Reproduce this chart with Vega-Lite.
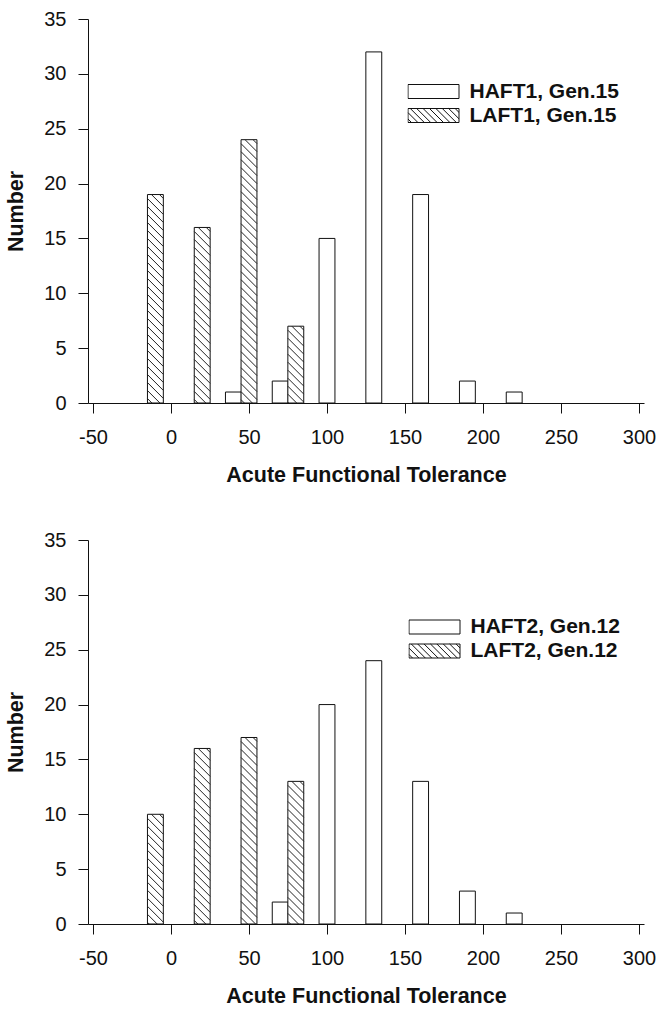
{
  "$schema": "https://vega.github.io/schema/vega-lite/v6.json",
  "background": "white",
  "padding": {"left": 5, "top": 9, "right": 2, "bottom": 4},
  "datasets": {
    "gen15": [
      {"AFT": -10, "Number": 19, "Line": "LAFT1, Gen.15"},
      {"AFT": 20, "Number": 16, "Line": "LAFT1, Gen.15"},
      {"AFT": 50, "Number": 24, "Line": "LAFT1, Gen.15"},
      {"AFT": 80, "Number": 7, "Line": "LAFT1, Gen.15"},
      {"AFT": 40, "Number": 1, "Line": "HAFT1, Gen.15"},
      {"AFT": 70, "Number": 2, "Line": "HAFT1, Gen.15"},
      {"AFT": 100, "Number": 15, "Line": "HAFT1, Gen.15"},
      {"AFT": 130, "Number": 32, "Line": "HAFT1, Gen.15"},
      {"AFT": 160, "Number": 19, "Line": "HAFT1, Gen.15"},
      {"AFT": 190, "Number": 2, "Line": "HAFT1, Gen.15"},
      {"AFT": 220, "Number": 1, "Line": "HAFT1, Gen.15"}
    ],
    "gen12": [
      {"AFT": -10, "Number": 10, "Line": "LAFT2, Gen.12"},
      {"AFT": 20, "Number": 16, "Line": "LAFT2, Gen.12"},
      {"AFT": 50, "Number": 17, "Line": "LAFT2, Gen.12"},
      {"AFT": 80, "Number": 13, "Line": "LAFT2, Gen.12"},
      {"AFT": 70, "Number": 2, "Line": "HAFT2, Gen.12"},
      {"AFT": 100, "Number": 20, "Line": "HAFT2, Gen.12"},
      {"AFT": 130, "Number": 24, "Line": "HAFT2, Gen.12"},
      {"AFT": 160, "Number": 13, "Line": "HAFT2, Gen.12"},
      {"AFT": 190, "Number": 3, "Line": "HAFT2, Gen.12"},
      {"AFT": 220, "Number": 1, "Line": "HAFT2, Gen.12"}
    ]
  },
  "config": {
    "view": {"stroke": null},
    "font": "Liberation Sans",
    "axis": {
      "grid": false,
      "domainColor": "#111", "domainWidth": 1,
      "tickColor": "#111", "tickWidth": 1, "tickSize": 10,
      "labelFont": "Liberation Sans", "labelFontSize": 20, "labelColor": "#111",
      "titleFont": "Liberation Sans", "titleFontSize": 21.5, "titleFontWeight": "bold", "titleColor": "#111",
      "labelFlush": false, "labelOverlap": false
    },
    "axisX": {"labelPadding": 14, "titlePadding": 17, "labelExpr": "'' + datum.value"},
    "axisY": {"labelPadding": 12, "titlePadding": 16},
    "legend": {
      "title": null,
      "orient": "none",
      "symbolSize": 2601,
      "symbolStrokeColor": "#111",
      "symbolStrokeWidth": 1,
      "symbolFillColor": "white",
      "symbolOpacity": 1,
      "clipHeight": 22,
      "rowPadding": 2,
      "labelOffset": 10,
      "labelFont": "Liberation Sans",
      "labelFontSize": 21,
      "labelFontWeight": "bold",
      "labelColor": "#111",
      "labelLimit": 300
    }
  },
  "spacing": 44,
  "vconcat": [
    {
      "width": 556,
      "height": 384,
      "data": {"name": "gen15"},
      "layer": [
        {
          "transform": [{"filter": {"field": "Line", "equal": "HAFT1, Gen.15"}}],
          "mark": {"type": "bar", "orient": "vertical", "width": 15.886, "stroke": "#111", "strokeWidth": 1},
          "encoding": {
            "x": {"field": "AFT", "type": "quantitative", "scale": {"domain": [-50, 300], "nice": false, "zero": false}, "axis": {"title": "Acute Functional Tolerance", "values": [-50, 0, 50, 100, 150, 200, 250, 300]}},
            "y": {"field": "Number", "type": "quantitative", "scale": {"domain": [0, 35], "nice": false}, "axis": {"title": "Number", "values": [0, 5, 10, 15, 20, 25, 30, 35]}},
            "fill": {"field": "Line", "type": "nominal",
              "scale": {"domain": ["HAFT1, Gen.15"], "range": ["white"]},
              "legend": {"legendX": 319.5, "legendY": 61.5, "symbolType": "M-1,-0.2745L1,-0.2745L1,0.2745L-1,0.2745Z"}}
          }
        },
        {
          "transform": [{"filter": {"field": "Line", "equal": "LAFT1, Gen.15"}}],
          "mark": {"type": "bar", "orient": "vertical", "width": 15.886, "fill": "white", "strokeWidth": 1},
          "encoding": {
            "x": {"field": "AFT", "type": "quantitative"},
            "y": {"field": "Number", "type": "quantitative"},
            "stroke": {"field": "Line", "type": "nominal",
              "scale": {"domain": ["LAFT1, Gen.15"], "range": ["#111"]},
              "legend": {"legendX": 319.5, "legendY": 85.5, "symbolType": "M-1,-0.2745L1,-0.2745L1,0.2745L-1,0.2745ZM-1,0.1373L-0.8627,0.2745M-1,-0.1137L-0.6118,0.2745M-0.9098,-0.2745L-0.3608,0.2745M-0.6588,-0.2745L-0.1098,0.2745M-0.4078,-0.2745L0.1412,0.2745M-0.1569,-0.2745L0.3922,0.2745M0.0941,-0.2745L0.6431,0.2745M0.3451,-0.2745L0.8941,0.2745M0.5961,-0.2745L1,0.1294M0.8471,-0.2745L1,-0.1216"}}
          }
        },
        {
          "transform": [{"filter": {"field": "Line", "equal": "LAFT1, Gen.15"}}],
          "mark": {"type": "point", "clip": true, "filled": false, "size": 4, "opacity": 1, "stroke": "#222", "strokeWidth": 1,
            "shape": "M4.06,0L7.94,3.89M-3.94,0L7.94,11.89M-7.94,4l15.89,15.89M-7.94,12l15.89,15.89M-7.94,20l15.89,15.89M-7.94,28l15.89,15.89M-7.94,36l15.89,15.89M-7.94,44l15.89,15.89M-7.94,52l15.89,15.89M-7.94,60l15.89,15.89M-7.94,68l15.89,15.89M-7.94,76l15.89,15.89M-7.94,84l15.89,15.89M-7.94,92l15.89,15.89M-7.94,100l15.89,15.89M-7.94,108l15.89,15.89M-7.94,116l15.89,15.89M-7.94,124l15.89,15.89M-7.94,132l15.89,15.89M-7.94,140l15.89,15.89M-7.94,148l15.89,15.89M-7.94,156l15.89,15.89M-7.94,164l15.89,15.89M-7.94,172l15.89,15.89M-7.94,180l15.89,15.89M-7.94,188l15.89,15.89M-7.94,196l15.89,15.89M-7.94,204l15.89,15.89M-7.94,212l15.89,15.89M-7.94,220l15.89,15.89M-7.94,228l15.89,15.89M-7.94,236l15.89,15.89M-7.94,244l15.89,15.89M-7.94,252l15.89,15.89M-7.94,260l15.89,15.89M-7.94,268l15.89,15.89"},
          "encoding": {
            "x": {"field": "AFT", "type": "quantitative"},
            "y": {"field": "Number", "type": "quantitative"}
          }
        }
      ]
    },
    {
      "width": 556,
      "height": 384,
      "data": {"name": "gen12"},
      "layer": [
        {
          "transform": [{"filter": {"field": "Line", "equal": "HAFT2, Gen.12"}}],
          "mark": {"type": "bar", "orient": "vertical", "width": 15.886, "stroke": "#111", "strokeWidth": 1},
          "encoding": {
            "x": {"field": "AFT", "type": "quantitative", "scale": {"domain": [-50, 300], "nice": false, "zero": false}, "axis": {"title": "Acute Functional Tolerance", "values": [-50, 0, 50, 100, 150, 200, 250, 300]}},
            "y": {"field": "Number", "type": "quantitative", "scale": {"domain": [0, 35], "nice": false}, "axis": {"title": "Number", "values": [0, 5, 10, 15, 20, 25, 30, 35]}},
            "fill": {"field": "Line", "type": "nominal",
              "scale": {"domain": ["HAFT2, Gen.12"], "range": ["white"]},
              "legend": {"legendX": 320.5, "legendY": 76, "symbolType": "M-1,-0.2745L1,-0.2745L1,0.2745L-1,0.2745Z"}}
          }
        },
        {
          "transform": [{"filter": {"field": "Line", "equal": "LAFT2, Gen.12"}}],
          "mark": {"type": "bar", "orient": "vertical", "width": 15.886, "fill": "white", "strokeWidth": 1},
          "encoding": {
            "x": {"field": "AFT", "type": "quantitative"},
            "y": {"field": "Number", "type": "quantitative"},
            "stroke": {"field": "Line", "type": "nominal",
              "scale": {"domain": ["LAFT2, Gen.12"], "range": ["#111"]},
              "legend": {"legendX": 320.5, "legendY": 100, "symbolType": "M-1,-0.2745L1,-0.2745L1,0.2745L-1,0.2745ZM-1,0.1373L-0.8627,0.2745M-1,-0.1137L-0.6118,0.2745M-0.9098,-0.2745L-0.3608,0.2745M-0.6588,-0.2745L-0.1098,0.2745M-0.4078,-0.2745L0.1412,0.2745M-0.1569,-0.2745L0.3922,0.2745M0.0941,-0.2745L0.6431,0.2745M0.3451,-0.2745L0.8941,0.2745M0.5961,-0.2745L1,0.1294M0.8471,-0.2745L1,-0.1216"}}
          }
        },
        {
          "transform": [{"filter": {"field": "Line", "equal": "LAFT2, Gen.12"}}],
          "mark": {"type": "point", "clip": true, "filled": false, "size": 4, "opacity": 1, "stroke": "#222", "strokeWidth": 1,
            "shape": "M4.06,0L7.94,3.89M-3.94,0L7.94,11.89M-7.94,4l15.89,15.89M-7.94,12l15.89,15.89M-7.94,20l15.89,15.89M-7.94,28l15.89,15.89M-7.94,36l15.89,15.89M-7.94,44l15.89,15.89M-7.94,52l15.89,15.89M-7.94,60l15.89,15.89M-7.94,68l15.89,15.89M-7.94,76l15.89,15.89M-7.94,84l15.89,15.89M-7.94,92l15.89,15.89M-7.94,100l15.89,15.89M-7.94,108l15.89,15.89M-7.94,116l15.89,15.89M-7.94,124l15.89,15.89M-7.94,132l15.89,15.89M-7.94,140l15.89,15.89M-7.94,148l15.89,15.89M-7.94,156l15.89,15.89M-7.94,164l15.89,15.89M-7.94,172l15.89,15.89M-7.94,180l15.89,15.89M-7.94,188l15.89,15.89M-7.94,196l15.89,15.89M-7.94,204l15.89,15.89M-7.94,212l15.89,15.89M-7.94,220l15.89,15.89M-7.94,228l15.89,15.89M-7.94,236l15.89,15.89M-7.94,244l15.89,15.89M-7.94,252l15.89,15.89M-7.94,260l15.89,15.89M-7.94,268l15.89,15.89"},
          "encoding": {
            "x": {"field": "AFT", "type": "quantitative"},
            "y": {"field": "Number", "type": "quantitative"}
          }
        }
      ]
    }
  ],
  "resolve": {"scale": {"fill": "independent", "stroke": "independent"}, "legend": {"fill": "independent", "stroke": "independent"}}
}
